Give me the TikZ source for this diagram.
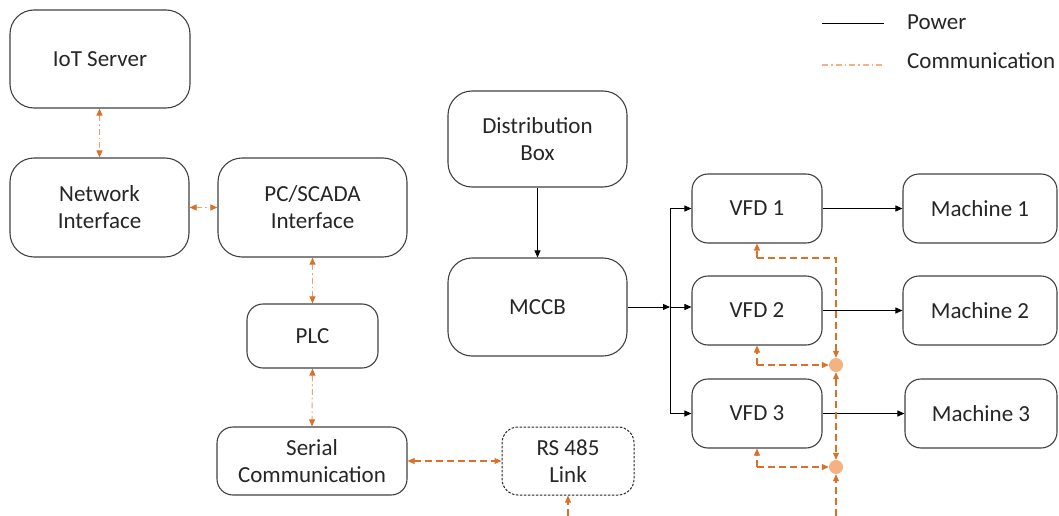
\documentclass[tikz,border=0pt]{standalone}
\usepackage{fontspec}
\setmainfont{Carlito}
\usetikzlibrary{arrows.meta}
\definecolor{boxline}{HTML}{404040}
\definecolor{comm}{HTML}{D9712B}
\definecolor{commmid}{HTML}{EBA070}
\definecolor{commlight}{HTML}{F4B183}
\definecolor{dotfill}{HTML}{F4B183}
\definecolor{txt}{HTML}{262626}
\tikzset{
  blk/.style={draw=boxline, line width=1.1pt, rounded corners=24pt, align=center, inner sep=0pt, font=\fontsize{23}{27}\selectfont, text=txt},
  sblk/.style={blk, rounded corners=16pt},
  pw/.style={draw=black, line width=0.9pt},
  pwa/.style={pw, -{Triangle[length=7pt,width=6pt]}},
  cdd/.style={draw=commmid, line width=1pt, dash pattern=on 6pt off 3pt on 1.5pt off 3pt},
  cda/.style={cdd, {Triangle[length=7pt,width=6pt,color=comm]}-{Triangle[length=7pt,width=6pt,color=comm]}},
  cds/.style={draw=comm, line width=1.1pt, dash pattern=on 7pt off 4pt},
  csa/.style={cds, -{Triangle[length=7pt,width=6pt]}},
  csd/.style={cds, {Triangle[length=7pt,width=6pt]}-{Triangle[length=7pt,width=6pt]}},
  jdot/.style={circle, fill=dotfill, draw=none, minimum size=14pt, inner sep=0pt},
  lbl/.style={anchor=west, inner sep=0pt, font=\fontsize{23}{27}\selectfont, text=txt}
}
\begin{document}
\begin{tikzpicture}[x=1pt,y=-1pt]
\useasboundingbox (0,0) rectangle (1059,516);
% communication side
\node[blk, minimum width=180pt, minimum height=98pt] (iot) at (100,59) {IoT Server};
\node[blk, minimum width=179pt, minimum height=99pt] (net) at (99.5,207.5) {Network\\Interface};
\node[blk, minimum width=189pt, minimum height=99pt] (pc) at (312.5,207.5) {PC/SCADA\\Interface};
\node[sblk, minimum width=131pt, minimum height=64pt] (plc) at (312.5,336) {PLC};
\node[sblk, minimum width=190pt, minimum height=68pt] (ser) at (312,461) {Serial\\Communication};
\node[sblk, draw=black!85, dash pattern=on 2.5pt off 1.5pt, line width=1pt, minimum width=132pt, minimum height=68pt] (rs) at (568,461) {RS 485\\Link};
% power side
\node[blk, minimum width=179pt, minimum height=96pt] (dist) at (537.5,139) {Distribution\\Box};
\node[blk, minimum width=179pt, minimum height=98pt] (mccb) at (537.5,307) {MCCB};
\node[sblk, minimum width=130pt, minimum height=69pt] (vfd1) at (757,208.5) {VFD 1};
\node[sblk, minimum width=130pt, minimum height=69pt] (vfd2) at (757,310.5) {VFD 2};
\node[sblk, minimum width=130pt, minimum height=69pt] (vfd3) at (757,413.5) {VFD 3};
\node[sblk, minimum width=154pt, minimum height=69pt] (m1) at (980,208.5) {Machine 1};
\node[sblk, minimum width=154pt, minimum height=69pt] (m2) at (980,310.5) {Machine 2};
\node[sblk, minimum width=152pt, minimum height=69pt] (m3) at (981,413.5) {Machine 3};
% junction dots
\node[jdot] (d1) at (836,365) {};
\node[jdot] (d2) at (836,467) {};
% power connectors
\draw[pwa] (dist) -- (mccb);
\coordinate (jt) at (670,208.5);
\coordinate (jm) at (670,307);
\coordinate (jb) at (670,413.5);
\draw[pw] (jt) -- (jb);
\draw[pwa] (mccb.east |- jm) -- (jm);
\draw[pwa] (jm) -- (vfd2.west |- jm);
\draw[pwa] (jt) -- (vfd1.west);
\draw[pwa] (jb) -- (vfd3.west);
\draw[pwa] (vfd1.east) -- (m1.west);
\draw[pwa] (vfd2.east) -- (m2.west);
\draw[pwa] (vfd3.east) -- (m3.west);
% communication connectors
\draw[cda] (iot.south -| net.north) -- (net.north);
\draw[cda] (net.east) -- (pc.west);
\draw[cda] (pc.south) -- (plc.north);
\draw[cda] (plc.south) -- (ser.north);
\draw[csd] (ser.east) -- (rs.west);
\coordinate (rsb) at (568,516);
\draw[csa] (rsb) -- (rs.south);
% VFD communication
\coordinate (c1) at (757,258);
\coordinate (c2) at (757,365);
\coordinate (c3) at (757,467);
\coordinate (bot) at (836,516);
\draw[csa] (c1) -- (vfd1.south);
\draw[csa] (c1) -- (d1.north |- c1) -- (d1.north);
\draw[csa] (c2) -- (vfd2.south);
\draw[csa] (c2) -- (d1.west);
\draw[csa] (c3) -- (vfd3.south);
\draw[csa] (c3) -- (d2.west);
\draw[csd] (d1.south) -- (d2.north);
\draw[csa] (bot) -- (d2.south);
% legend
\coordinate (lp1) at (822,23);
\coordinate (lp2) at (884,23);
\coordinate (lc1) at (822,65);
\coordinate (lc2) at (884,65);
\draw[pw] (lp1) -- (lp2);
\draw[draw=commlight, line width=1.1pt, dash pattern=on 6pt off 3pt on 1.5pt off 3pt] (lc1) -- (lc2);
\node[lbl] (lpow) at (907,22) {Power};
\node[lbl] (lcom) at (907,61) {Communication};
\end{tikzpicture}
\end{document}
